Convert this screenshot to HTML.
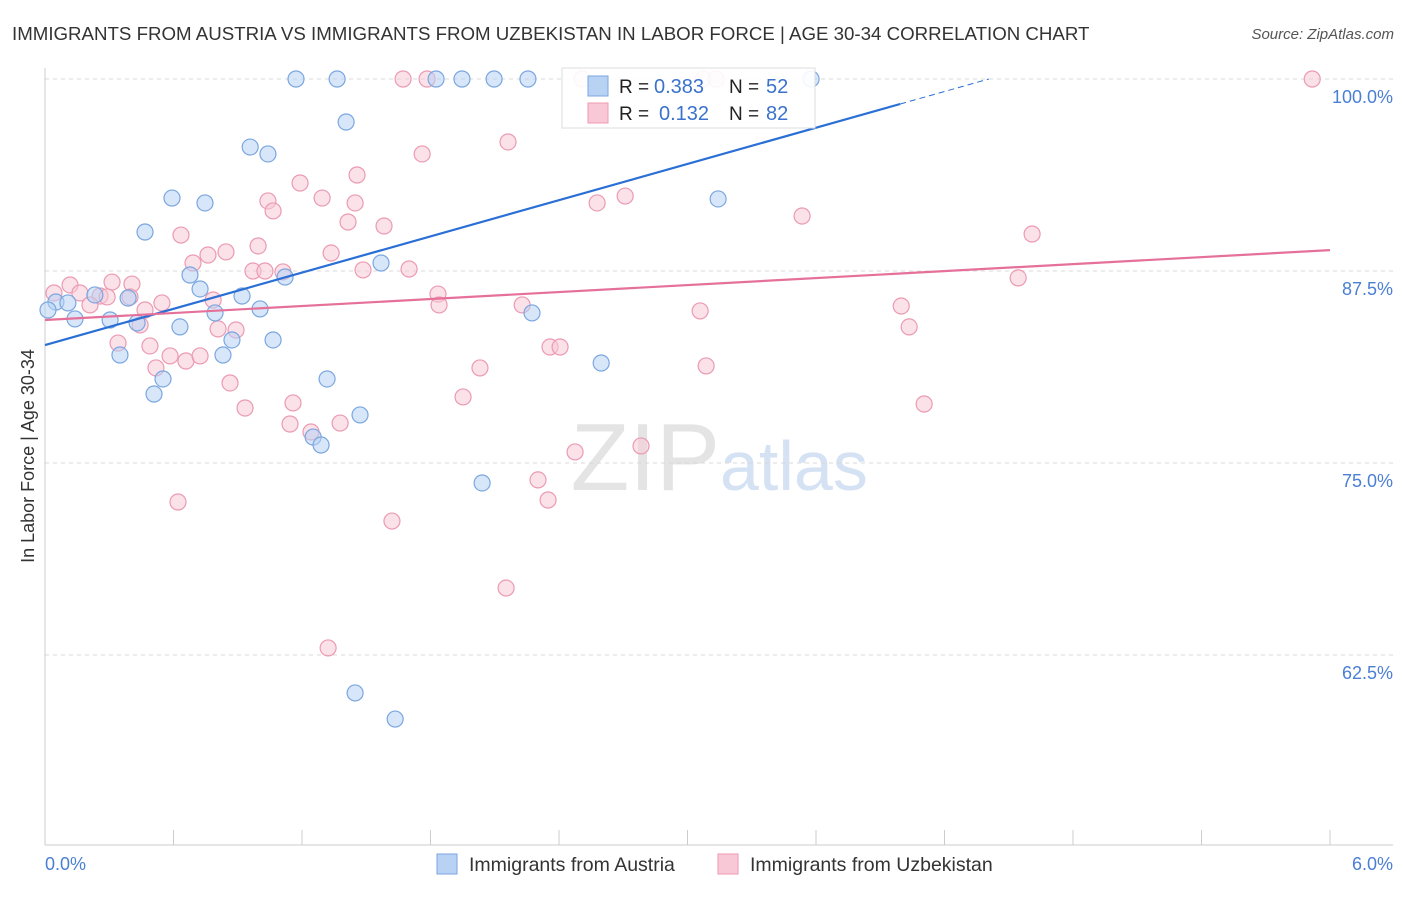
<!DOCTYPE html>
<html><head><meta charset="utf-8">
<style>
body{margin:0;background:#fff;font-family:"Liberation Sans",sans-serif}
svg text{font-family:"Liberation Sans",sans-serif}
</style></head>
<body>
<svg id="chart" width="1406" height="892" xmlns="http://www.w3.org/2000/svg">
<text x="12" y="40" font-size="18.7" fill="#333">IMMIGRANTS FROM AUSTRIA VS IMMIGRANTS FROM UZBEKISTAN IN LABOR FORCE | AGE 30-34 CORRELATION CHART</text>
<text x="1394" y="39" font-size="15" fill="#555" text-anchor="end" font-style="italic">Source: ZipAtlas.com</text>
<text x="720" y="490" font-size="96" fill="#e4e4e4" text-anchor="end" font-family="Liberation Serif">ZIP</text>
<text x="720" y="490" font-size="70" fill="#d4e2f4">atlas</text>
<g id="grid"></g><g id="axes"></g><g id="pts"></g><g id="trend"></g>
<text transform="translate(34,456) rotate(-90)" font-size="18" fill="#333" text-anchor="middle">In Labor Force | Age 30-34</text>
<text x="45" y="870" font-size="18" fill="#4a7fd4">0.0%</text>
<text x="1393" y="870" font-size="18" fill="#4a7fd4" text-anchor="end">6.0%</text>
<g>
<rect x="437" y="854" width="20" height="20" fill="#b8d2f4" stroke="#7aa6e0"/>
<text x="469" y="871" font-size="19.5" fill="#333">Immigrants from Austria</text>
<rect x="718" y="854" width="20" height="20" fill="#f8c8d6" stroke="#eb9ab2"/>
<text x="750" y="871" font-size="19.5" fill="#333">Immigrants from Uzbekistan</text>
</g>
<g>
<rect x="562" y="68" width="253" height="60" fill="#fff" fill-opacity="0.9" stroke="#ddd"/>
<rect x="588" y="76" width="20" height="20" fill="#b8d2f4" stroke="#7aa6e0"/>
<text x="619" y="93" font-size="19" fill="#222">R =</text>
<text x="654" y="93" font-size="20" fill="#3a72cc">0.383</text>
<text x="729" y="93" font-size="19" fill="#222">N =</text>
<text x="766" y="93" font-size="20" fill="#3a72cc">52</text>
<rect x="588" y="103" width="20" height="20" fill="#f8c8d6" stroke="#eb9ab2"/>
<text x="619" y="120" font-size="19" fill="#222">R =</text>
<text x="659" y="120" font-size="20" fill="#3a72cc">0.132</text>
<text x="729" y="120" font-size="19" fill="#222">N =</text>
<text x="766" y="120" font-size="20" fill="#3a72cc">82</text>
</g>
</svg>
<script>
const yTicks=[100,87.5,75,62.5];
const yTickLabels=["100.0%","87.5%","75.0%","62.5%"];
const austriaX=[1.172,1.364,1.826,1.947,2.097,2.255,3.577,1.406,0.958,1.041,0.593,0.747,0.467,3.143,1.569,0.677,1.121,0.724,0.920,0.388,0.233,1.004,0.794,0.051,0.107,0.140,0.304,0.430,0.630,0.873,0.350,1.065,0.831,2.597,2.274,0.551,1.317,0.509,1.471,1.252,1.289,2.041,1.448,1.635,0.014];
const austriaY=[100,100,100,100,100,100,100,97.2,95.57,95.12,92.25,91.93,90.04,92.19,88.02,87.24,87.11,86.33,85.87,85.74,85.94,85.03,84.77,85.48,85.42,84.38,84.31,84.12,83.86,83.01,82.03,83.01,82.03,81.51,84.77,80.47,80.47,79.49,78.13,76.69,76.17,73.7,60.03,58.33,84.96];
const uzbekX=[1.672,1.784,2.508,3.073,3.134,5.917,2.162,1.761,1.191,1.294,1.457,1.448,1.041,1.065,2.578,2.709,3.535,4.609,0.635,1.415,1.583,0.995,0.691,0.761,0.845,1.336,0.971,1.027,1.111,1.485,1.700,4.544,0.313,0.406,0.117,0.163,0.257,0.042,0.546,0.785,1.835,1.840,2.228,3.998,0.467,0.210,0.444,0.808,0.892,3.059,4.035,0.341,0.490,0.584,0.658,0.724,0.864,2.031,3.087,2.358,2.405,0.518,0.934,1.158,1.144,1.242,1.378,1.952,4.105,2.475,2.783,2.302,0.621,2.349,1.620,2.153,1.322,0.290,0.397];
const uzbekY=[100,100,100,100,100,100,95.9,95.12,93.23,92.25,93.75,91.93,92.06,91.41,91.93,92.38,91.08,89.91,89.84,90.69,90.43,89.13,88.02,88.54,88.74,88.67,87.5,87.5,87.44,87.57,87.63,87.05,86.78,86.65,86.59,86.07,85.87,86.07,85.42,85.61,86.0,85.29,85.29,85.22,84.96,85.29,83.99,83.73,83.66,84.9,83.86,82.81,82.62,81.97,81.64,81.97,80.21,81.19,81.32,82.55,82.55,81.19,78.58,78.91,77.54,77.02,77.6,79.3,78.84,75.72,76.11,73.9,72.46,72.59,71.22,66.86,62.96,85.81,85.81];
const blueTrend=[82.68,3.93];
const pinkTrend=[84.31,0.758];
const X=v=>45+v/6*1285, Y=v=>79+(100-v)/12.5*192;
const NS="http://www.w3.org/2000/svg";
function mk(p,t,a){const e=document.createElementNS(NS,t);for(const k in a)e.setAttribute(k,a[k]);document.getElementById(p).appendChild(e);return e;}
yTicks.forEach((t,i)=>{
 const g=mk('grid','line',{x1:45,x2:1393,y1:Y(t),y2:Y(t),stroke:'#d8d8d8','stroke-dasharray':'4,4'});
 
 
 const l=mk('grid','text',{x:1393,y:Y(t)+24,'font-size':18,fill:'#4a7fd4','text-anchor':'end'});
 l.textContent=yTickLabels[i];
 
 
});
const ax=mk('axes','line',{x1:45,x2:1393,y1:845,y2:845,stroke:'#ccc'});


const ay=mk('axes','line',{x1:45,x2:45,y1:68,y2:845,stroke:'#ccc'});


for(let i=1;i<=10;i++){const t=mk('axes','line',{x1:X(i*0.6),x2:X(i*0.6),y1:830,y2:845,stroke:'#ccc'});
 
 }
uzbekX.forEach((x,i)=>{const c=mk('pts','circle',{cx:X(x),cy:Y(uzbekY[i]),r:8,fill:'#f8c8d6','fill-opacity':0.55,stroke:'#eb9ab2','stroke-width':1.2});
 
 });
austriaX.forEach((x,i)=>{const c=mk('pts','circle',{cx:X(x),cy:Y(austriaY[i]),r:8,fill:'#b8d2f4','fill-opacity':0.55,stroke:'#7aa6e0','stroke-width':1.2});
 
 });
const bx1=3.993,bx2=(100-blueTrend[0])/blueTrend[1];
const b1=mk('trend','line',{x1:X(0),y1:Y(blueTrend[0]),x2:X(bx1),y2:Y(blueTrend[0]+blueTrend[1]*bx1),stroke:'#2a6fd6','stroke-width':2.2});


const b2=mk('trend','line',{x1:X(bx1),y1:Y(blueTrend[0]+blueTrend[1]*bx1),x2:X(bx2),y2:Y(100),stroke:'#2a6fd6','stroke-width':1,'stroke-dasharray':'6,4'});


const p1=mk('trend','line',{x1:X(0),y1:Y(pinkTrend[0]),x2:X(6),y2:Y(pinkTrend[0]+pinkTrend[1]*6),stroke:'#e5709a','stroke-width':2.2});


</script>
</body></html>
